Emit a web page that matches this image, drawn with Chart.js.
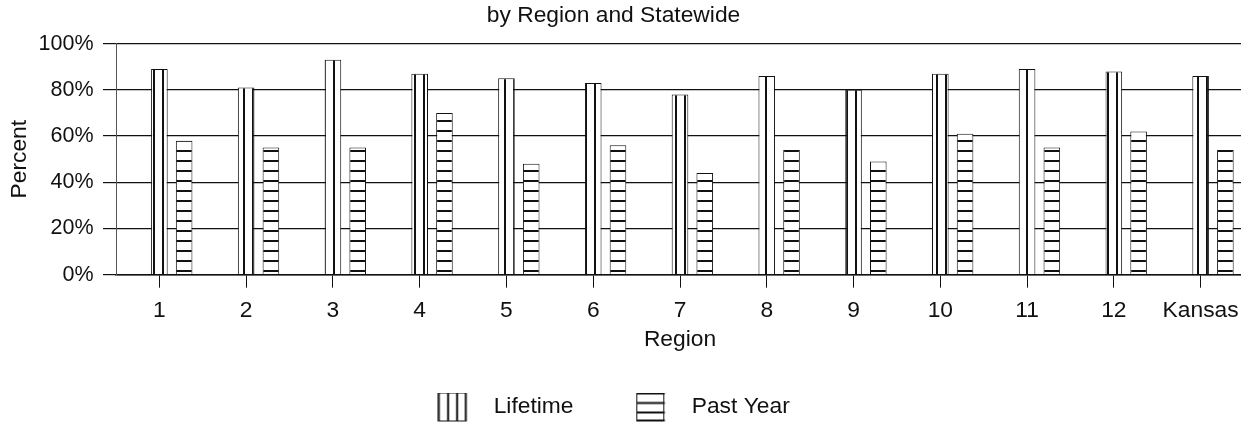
<!DOCTYPE html>
<html><head><meta charset="utf-8">
<script src="https://cdn.jsdelivr.net/npm/chart.js@4.4.1/dist/chart.umd.min.js"></script>
<style>
html,body{margin:0;padding:0;background:#fff;overflow:hidden;}
#wrap{width:1260px;height:426px;position:relative;background:#fff;}
</style></head><body>
<div id="wrap"><canvas id="c"></canvas></div>
<script>
const categories = ['1','2','3','4','5','6','7','8','9','10','11','12','Kansas'];
const lifetime = [89, 81, 93, 87, 85, 83, 78, 86, 80, 87, 89, 88, 86];
const pastYear = [58, 55, 55, 70, 48, 56, 44, 54, 49, 61, 55, 62, 54];
const yTickLabels = ['0%', '20%', '40%', '60%', '80%', '100%'];
const seriesNames = ['Lifetime', 'Past Year'];
const titleText = 'by Region and Statewide';
const xTitle = 'Region';
const yTitle = 'Percent';

const FONT = "'Liberation Sans', Arial, sans-serif";
const INK = '#111';
const FS = 22.8;
Chart.defaults.font.family = FONT;
Chart.defaults.color = INK;

function makePattern(vertical) {
  const c = document.createElement('canvas');
  c.width = vertical ? 9 : 4;
  c.height = vertical ? 4 : 10;
  const g = c.getContext('2d');
  g.fillStyle = '#fff';
  g.fillRect(0, 0, c.width, c.height);
  g.fillStyle = INK;
  if (vertical) g.fillRect(0, 0, 2, 4); else g.fillRect(0, 0, 4, 2);
  return g.createPattern(c, 'repeat');
}
function makeIcon(vertical) {
  const c = document.createElement('canvas');
  c.width = 45; c.height = 45;
  const g = c.getContext('2d');
  const top = 8, h = 29;
  g.fillStyle = '#fff';
  g.fillRect(1, top, 28, h);
  g.strokeStyle = INK; g.lineWidth = 1;
  g.strokeRect(1.5, top + 0.5, 27, h - 1);
  g.fillStyle = INK;
  if (vertical) {
    [0.5, 9.8, 18.8, 27.5].forEach(x => g.fillRect(x, top, 2, h));
  } else {
    [top, top + 9.5, top + 19, top + h - 2].forEach(y => g.fillRect(1, y, 28.5, 2));
  }
  return c;
}
function blankIcon() {
  const c = document.createElement('canvas');
  c.width = 2; c.height = 2;
  return c;
}
const vPattern = makePattern(true);
const hPattern = makePattern(false);
const icons = [makeIcon(true), makeIcon(false)];

new Chart(document.getElementById('c'), {
  type: 'bar',
  data: {
    labels: categories,
    datasets: [
      { label: '', data: [], backgroundColor: 'rgba(0,0,0,0)', borderWidth: 0 },
      { label: seriesNames[0], data: lifetime, backgroundColor: vPattern, borderColor: INK, borderWidth: 1 },
      { label: seriesNames[1], data: pastYear, backgroundColor: hPattern, borderColor: INK, borderWidth: 1 }
    ]
  },
  options: {
    responsive: true,
    maintainAspectRatio: false,
    animation: false,
    devicePixelRatio: 1,
    layout: { padding: { left: -17, right: 16, top: 0, bottom: -2.4 } },
    datasets: { bar: { categoryPercentage: 0.856, barPercentage: 0.67 } },
    plugins: {
      tooltip: { enabled: false },
      title: {
        display: true, text: titleText, color: INK,
        font: { family: FONT, size: FS, weight: 'normal' },
        padding: { top: 2.3, bottom: 14.0 }
      },
      legend: {
        position: 'bottom',
        labels: {
          usePointStyle: true,
          pointStyleWidth: 45,
          padding: 2.7,
          color: INK,
          font: { family: FONT, size: FS },
          generateLabels: (chart) => [
            { text: seriesNames[0], pointStyle: icons[0], fontColor: INK, datasetIndex: 1, lineWidth: 0 },
            { text: '', pointStyle: blankIcon(), fontColor: INK, lineWidth: 0 },
            { text: seriesNames[1], pointStyle: icons[1], fontColor: INK, datasetIndex: 2, lineWidth: 0 }
          ]
        },
        onClick: () => {}
      }
    },
    scales: {
      x: {
        offset: true,
        grid: { offset: false, drawOnChartArea: false, drawTicks: true, tickLength: 13, color: INK, lineWidth: 1 },
        border: { display: true, color: INK, width: 1.5 },
        ticks: { color: INK, font: { size: FS }, padding: 9.3, maxRotation: 0, autoSkip: false },
        title: { display: true, text: xTitle, color: INK, font: { size: FS }, padding: { top: -7.3, bottom: 39.2 } }
      },
      y: {
        min: 0, max: 100,
        ticks: { stepSize: 20, color: INK, font: { size: 21.5 }, padding: 9.5, callback: (v, i) => yTickLabels[i] },
        grid: { color: INK, lineWidth: 1.2, tickLength: 13 },
        border: { display: true, color: '#555', width: 1 },
        title: { display: true, text: yTitle, color: INK, font: { size: FS }, padding: { top: 22.8, bottom: 0 } },
        afterFit: (s) => { s.width = 133; }
      }
    }
  }
});
</script>
</body></html>
